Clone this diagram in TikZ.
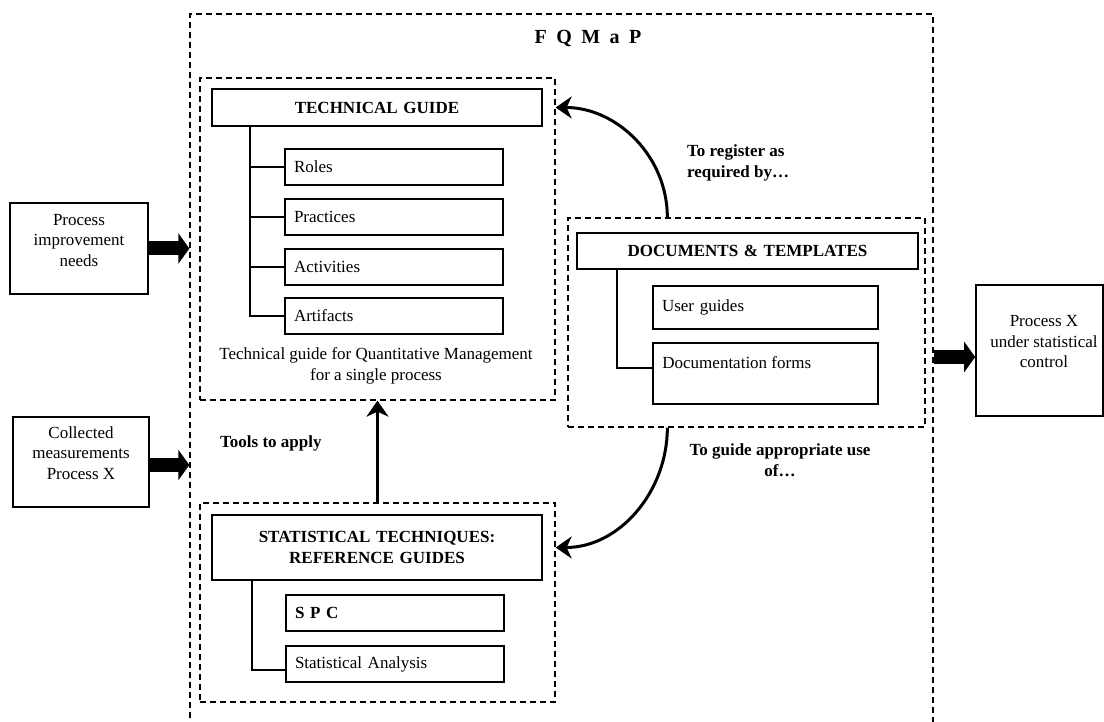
\documentclass[tikz,border=0pt]{standalone}
\usepackage{fontspec}
\setmainfont{Liberation Serif}
\usetikzlibrary{arrows.meta,calc}
\begin{document}
\begin{tikzpicture}[x=1pt,y=-1pt,
  every node/.style={font=\fontsize{17}{20.5}\selectfont},
  solidbox/.style={draw,line width=1.6pt,inner sep=0pt},
  dashbox/.style={draw,line width=1.3pt,dash pattern=on 6pt off 4pt,inner sep=0pt},
  itembox/.style={draw,line width=1.6pt,inner xsep=9pt,inner ysep=0pt,text width=#1,align=left,minimum height=36pt},
  headbox/.style={draw,line width=1.6pt,inner sep=0pt,text width=#1,align=center,font=\fontsize{17}{20.5}\selectfont\bfseries},
  lbl/.style={font=\fontsize{17}{20.5}\selectfont\bfseries,inner sep=0pt},
  plain/.style={inner sep=0pt,align=center},
  tree/.style={line width=1.6pt},
  fat/.style={line width=14pt,-{Triangle[length=11pt,width=30pt]}},
  curved/.style={line width=3pt,-{Stealth[length=16pt,width=22pt,inset=5pt]}}
]
\useasboundingbox (0,0) rectangle (1104,722);

% outer frame
\node[dashbox,minimum width=743pt,minimum height=716pt] (outer) at (561.5,372) {};
\node[lbl,font=\fontsize{20}{24}\selectfont\bfseries] (title) at (588,39) {F\hspace{9.5pt}Q\hspace{9.5pt}M\hspace{9.5pt}a\hspace{9.5pt}P};

% technical guide
\node[dashbox,minimum width=355pt,minimum height=322pt] (tech) at (377.5,239) {};
\node[headbox=330pt,minimum height=37pt] (techhead) at (377,107.5) {TECHNICAL GUIDE};
\node[itembox=200pt] (roles) at (394,167) {Roles};
\node[itembox=200pt] (pract) at (394,217) {Practices};
\node[itembox=200pt] (activ) at (394,267) {Activities};
\node[itembox=200pt] (artif) at (394,316) {Artifacts};
\coordinate (techtree) at (techhead.south -| 250,0);
\draw[tree] (techtree) |- (artif.west);
\draw[tree] (techtree |- roles.west) -- (roles.west);
\draw[tree] (techtree |- pract.west) -- (pract.west);
\draw[tree] (techtree |- activ.west) -- (activ.west);
\node[plain] (techcap) at (376,366) {Technical guide for Quantitative Management\\for a single process};

% statistical techniques
\node[dashbox,minimum width=355pt,minimum height=199pt] (stat) at (377.5,602.5) {};
\node[headbox=330pt,minimum height=65pt] (stathead) at (377,547.5) {STATISTICAL TECHNIQUES:\\REFERENCE GUIDES};
\node[itembox=200pt] (spc) at (395,613) {\textbf{S P C}};
\node[itembox=200pt] (sa) at (395,664) {Statistical Analysis};
\coordinate (stattree) at (stathead.south -| 252,0);
\draw[tree] (stattree) |- ($(sa.west)+(0,6)$);
\draw[tree] ($(spc.west)+(0,8)$ -| stattree) -- ($(spc.west)+(0,8)$);

% documents & templates
\node[dashbox,minimum width=357pt,minimum height=209pt] (docs) at (746.5,322.5) {};
\node[headbox=341pt,minimum height=36pt] (docshead) at (747.5,251) {DOCUMENTS \& TEMPLATES};
\node[itembox=207pt,minimum height=43pt] (guides) at (765.5,307.5) {User guides};
\node[solidbox,minimum width=225pt,minimum height=61pt] (forms) at (765.5,373.5) {};
\node[anchor=west,inner sep=0pt] (formstext) at ($(forms.north west)+(10,20)$) {Documentation forms};
\coordinate (docstree) at (docshead.south -| 617,0);
\draw[tree] (docstree) |- ($(forms.west)+(0,-5.5)$);
\draw[tree] ($(guides.west)+(0,4.5)$ -| docstree) -- ($(guides.west)+(0,4.5)$);

% inputs and output
\node[solidbox,minimum width=138pt,minimum height=91pt] (pin) at (79,248.5) {};
\node[plain] (pintext) at ($(pin.center)+(0,-8)$) {Process\\improvement\\needs};
\node[solidbox,minimum width=136pt,minimum height=90pt] (coll) at (81,462) {};
\node[plain] (colltext) at ($(coll.center)+(0,-9)$) {Collected\\measurements\\Process X};
\node[solidbox,minimum width=127pt,minimum height=131pt] (px) at (1039.5,350.5) {};
\node[plain] (pxtext) at (1044,342) {Process X\\under statistical\\control};

\draw[fat] (pin.east) -- (pin.east -| outer.west);
\coordinate (collout) at ($(coll.east)+(0,3)$);
\draw[fat] (collout) -- (collout -| outer.west);
\coordinate (pxin) at ($(px.west)+(0,6.5)$);
\draw[fat] (pxin -| outer.east) -- (pxin);

% curved and straight connectors
\coordinate (dtop) at ($(docs.north west)+(100,0)$);
\draw[curved] (dtop) to[out=90,in=0] (tech.east |- techhead);
\coordinate (dbot) at ($(docs.south west)+(100,0)$);
\draw[curved] (dbot) to[out=-90,in=0] (stat.east |- stathead);
\draw[curved] (stat.north) -- (tech.south);

% labels
\node[lbl,anchor=west,align=left] (reglbl) at (687,163) {To register as\\required by…};
\node[lbl,anchor=west] (toolslbl) at (220,443) {Tools to apply};
\node[lbl,align=center] (guidelbl) at (780,460) {To guide appropriate use\\of…};
\end{tikzpicture}
\end{document}
